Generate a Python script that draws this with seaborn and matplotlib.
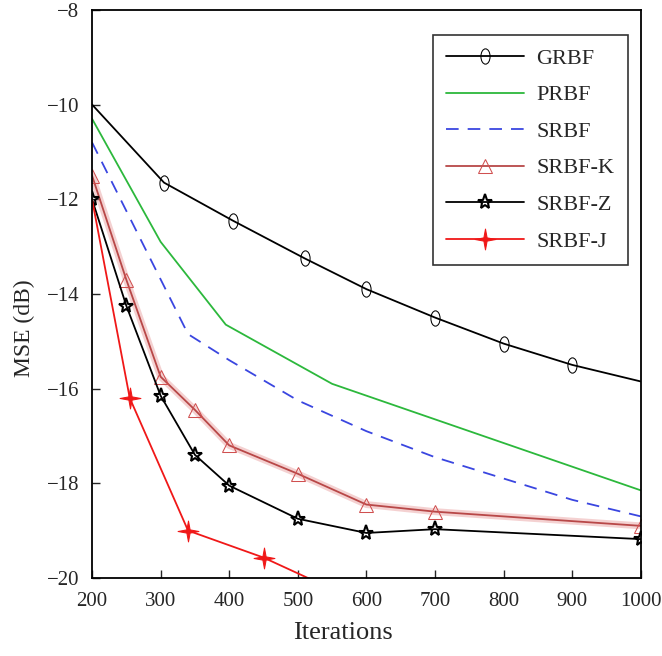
import numpy as np
import pandas as pd
import matplotlib
matplotlib.use("Agg")
import matplotlib.pyplot as plt
from matplotlib.path import Path
from matplotlib.transforms import Affine2D
import seaborn as sns

# data
grbf_x = [200, 305, 405, 510, 600, 700, 800, 900, 1000]
grbf_y = [-10.0, -11.65, -12.45, -13.25, -13.9, -14.5, -15.05, -15.5, -15.85]

prbf_x = [200, 300, 395, 550, 1000]
prbf_y = [-10.3, -12.9, -14.65, -15.9, -18.15]

srbf_x = [200, 340, 400, 500, 600, 700, 800, 900, 1000]
srbf_y = [-10.8, -14.85, -15.4, -16.25, -16.9, -17.45, -17.9, -18.35, -18.7]

srbfk_x = [200, 250, 300, 350, 400, 500, 600, 700, 1000]
srbfk_y = [-11.5, -13.7, -15.75, -16.45, -17.2, -17.8, -18.45, -18.6, -18.9]

srbfz_x = [200, 250, 300, 350, 400, 500, 600, 700, 1000]
srbfz_y = [-12.0, -14.25, -16.15, -17.4, -18.05, -18.75, -19.05, -18.97, -19.18]

srbfj_x = [200, 255, 340, 450, 522, 560]
srbfj_y = [-12.0, -16.2, -19.0, -19.57, -20.05, -20.4]

x_ticks = [200, 300, 400, 500, 600, 700, 800, 900, 1000]
y_ticks = [-20, -18, -16, -14, -12, -10, -8]

sns.set_style("ticks")
plt.rcParams['font.family'] = ['Liberation Serif', 'DejaVu Serif']

# tall narrow circle, like the squashed MATLAB 'o'
ellipse = Path.unit_circle().transformed(Affine2D().scale(0.6, 1.0))
# thin four-armed star for SRBF-J
thin_star = Path.unit_regular_star(4, innerCircle=0.22)

fig = plt.figure(figsize=(6.62, 6.56), dpi=100)
ax = fig.add_axes([0.139, 0.119, 0.829, 0.866])

sns.lineplot(x=grbf_x, y=grbf_y, ax=ax, color="black", lw=1.3, marker=ellipse,
             markersize=11, markerfacecolor="none", markeredgecolor="black",
             markevery=list(range(1, 8)), label="GRBF")
sns.lineplot(x=prbf_x, y=prbf_y, ax=ax, color="#2cb83c", lw=1.3, label="PRBF")
sns.lineplot(x=srbf_x, y=srbf_y, ax=ax, color="#3a46e0", lw=1.3,
             dashes=False, linestyle=(0, (7, 5)), label="SRBF")
# pinkish halo behind SRBF-K
sns.lineplot(x=srbfk_x, y=srbfk_y, ax=ax, color="#e89a9a", lw=5, alpha=0.45,
             label="_nolegend_")
sns.lineplot(x=srbfk_x, y=srbfk_y, ax=ax, color="#b84848", lw=1.3, marker="^",
             markersize=10, markerfacecolor="none", markeredgecolor="#d05050",
             label="SRBF-K")
sns.lineplot(x=srbfz_x, y=srbfz_y, ax=ax, color="black", lw=1.3, marker="*",
             markersize=11, markerfacecolor="none", markeredgecolor="black",
             markeredgewidth=1.5, label="SRBF-Z")
sns.lineplot(x=srbfj_x, y=srbfj_y, ax=ax, color="#f01818", lw=1.3,
             marker=thin_star, markersize=15, markerfacecolor="#f01818",
             markeredgecolor="#f01818", markevery=[1, 2, 3], label="SRBF-J")

ax.set_xlim(200, 1000)
ax.set_ylim(-20, -8)
ax.set_xticks(x_ticks)
ax.set_yticks(y_ticks)
ax.set_yticklabels([str(v).replace("-", "\u2212") for v in y_ticks])
ax.tick_params(direction="in", labelsize=15, length=6, width=1,
               top=False, right=False)
ax.tick_params(axis="x", pad=10)
ax.tick_params(axis="y", pad=9)
for s in ax.spines.values():
    s.set_linewidth(1.3)
    s.set_color("black")

ax.set_xlabel("Iterations", fontsize=19)
ax.set_ylabel("MSE (dB)", fontsize=17)
ax.xaxis.set_label_coords(0.457, -0.077)
ax.yaxis.set_label_coords(-0.104, 0.44)

leg = ax.legend(loc="upper right", bbox_to_anchor=(0.976, 0.956), fontsize=16,
                frameon=True, fancybox=False, edgecolor="black",
                borderaxespad=0, handlelength=3.5, labelspacing=0.72,
                borderpad=0.6, handletextpad=0.55)
leg.get_frame().set_linewidth(1.2)

fig.savefig("out.png", dpi=100)
